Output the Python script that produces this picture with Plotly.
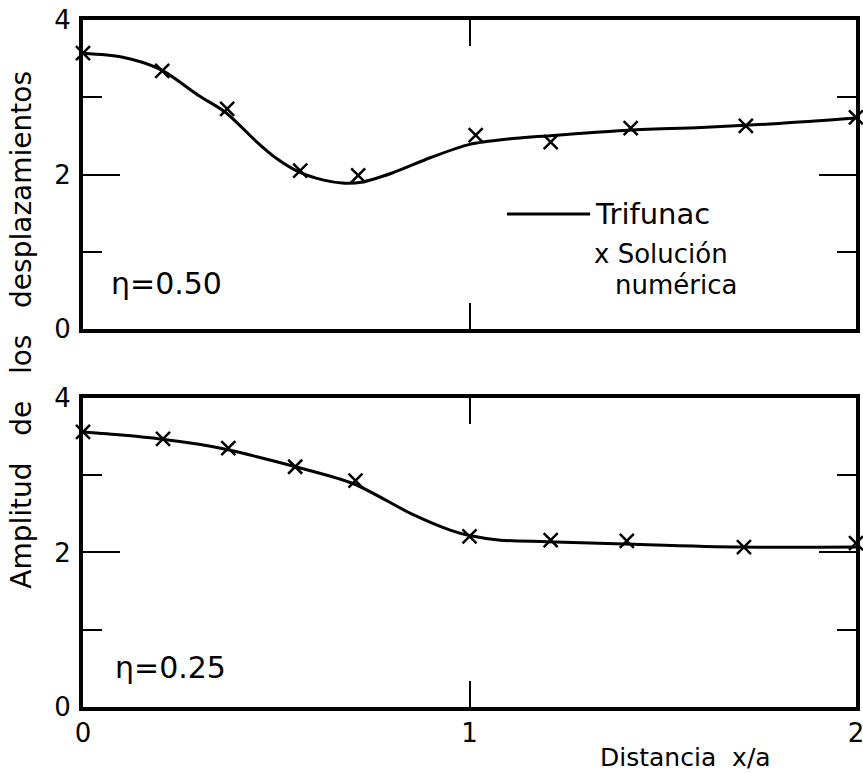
import plotly.graph_objects as go

# ---- data ----
# eta = 0.50 panel
curve50_x = [0, 0.1, 0.2, 0.3, 0.37, 0.45, 0.5, 0.56, 0.62, 0.67, 0.72, 0.8, 0.9, 1.0, 1.1, 1.2, 1.4, 1.6, 1.8, 2.0]
curve50_y = [3.57, 3.52, 3.36, 3.02, 2.80, 2.42, 2.21, 2.03, 1.93, 1.89, 1.90, 2.02, 2.22, 2.39, 2.46, 2.50, 2.57, 2.61, 2.66, 2.73]
pts50_x = [0, 0.205, 0.373, 0.562, 0.712, 1.016, 1.21, 1.417, 1.715, 2.0]
pts50_y = [3.57, 3.34, 2.85, 2.05, 1.99, 2.51, 2.42, 2.60, 2.63, 2.74]

# eta = 0.25 panel
curve25_x = [0, 0.1, 0.2, 0.3, 0.375, 0.45, 0.55, 0.7, 0.85, 0.95, 1.0, 1.08, 1.2, 1.4, 1.7, 2.0]
curve25_y = [3.56, 3.52, 3.47, 3.40, 3.33, 3.24, 3.11, 2.89, 2.50, 2.29, 2.22, 2.16, 2.14, 2.11, 2.07, 2.07]
pts25_x = [0, 0.207, 0.376, 0.549, 0.705, 1.0, 1.21, 1.407, 1.71, 2.0]
pts25_y = [3.56, 3.47, 3.35, 3.11, 2.93, 2.21, 2.16, 2.15, 2.07, 2.12]

x_ticks = [0, 1, 2]
y_ticks = [0, 2, 4]

FONT = "DejaVu Sans"
BLACK = "black"

fig = go.Figure()

def add_panel(cx, cy, px, py, xa, ya):
    fig.add_trace(go.Scatter(x=cx, y=cy, mode="lines", line=dict(color=BLACK, width=3, shape="spline", smoothing=0.8),
                             xaxis=xa, yaxis=ya, showlegend=False, cliponaxis=False))
    fig.add_trace(go.Scatter(x=px, y=py, mode="markers",
                             marker=dict(symbol="x-thin", size=14, line=dict(color=BLACK, width=2.5)),
                             xaxis=xa, yaxis=ya, showlegend=False, cliponaxis=False))

add_panel(curve50_x, curve50_y, pts50_x, pts50_y, "x", "y")
add_panel(curve25_x, curve25_y, pts25_x, pts25_y, "x2", "y2")

axis_common = dict(showgrid=False, zeroline=False, showline=True, linecolor=BLACK, linewidth=4,
                   mirror="ticks", ticks="inside", tickcolor=BLACK, tickwidth=2, automargin=False,
                   ticklabeloverflow="allow",
                   tickfont=dict(family=FONT, size=26, color=BLACK))

xaxis_cfg = dict(axis_common, range=[0, 2], tickvals=x_ticks, ticklen=26)
yaxis_cfg = dict(axis_common, range=[0, 4], tickvals=y_ticks, ticklen=37,
                 minor=dict(dtick=1, ticks="inside", ticklen=19, tickwidth=2, tickcolor=BLACK),
                 ticklabelstandoff=3)

top_dom = [0.5502, 1.0]
bot_dom = [0.0, 0.4498]

fig.update_layout(
    width=863, height=773,
    margin=dict(l=83, r=7, t=20, b=66),
    paper_bgcolor="white", plot_bgcolor="white",
    xaxis=dict(xaxis_cfg, domain=[0, 1], anchor="y", showticklabels=False),
    yaxis=dict(yaxis_cfg, domain=top_dom, anchor="x"),
    xaxis2=dict(xaxis_cfg, domain=[0, 1], anchor="y2", ticklabelstandoff=0),
    yaxis2=dict(yaxis_cfg, domain=bot_dom, anchor="x2"),
    showlegend=False,
)

def ann(text, x, y, size, xanchor="left", yanchor="middle", angle=0):
    fig.add_annotation(text=text, x=x, y=y, xref="paper", yref="paper", showarrow=False,
                       xanchor=xanchor, yanchor=yanchor, textangle=angle,
                       font=dict(family=FONT, size=size, color=BLACK))

# panel labels
ann("η=0.50", 0.033, 0.617, 30)
ann("η=0.25", 0.039, 0.058, 30)

# legend (top panel)
fig.add_shape(type="line", xref="paper", yref="paper", x0=0.5485, x1=0.656, y0=0.7176, y1=0.7176,
              line=dict(color=BLACK, width=3))
ann("Trifunac", 0.660, 0.7176, 29)
ann("x Solución", 0.658, 0.6595, 26)
ann("numérica", 0.685, 0.6145, 26)

# axis titles
ann("Amplitud\u00a0\u00a0 de\u00a0\u00a0 los\u00a0\u00a0 desplazamientos", -0.079, 0.549, 28, xanchor="center", angle=-90)
ann("Distancia\u00a0 x/a", 0.78, -0.073, 25, xanchor="center")

fig.write_html("out.html", config={"displayModeBar": False},
               post_script="document.body.style.margin='0';document.body.style.overflow='hidden';")
